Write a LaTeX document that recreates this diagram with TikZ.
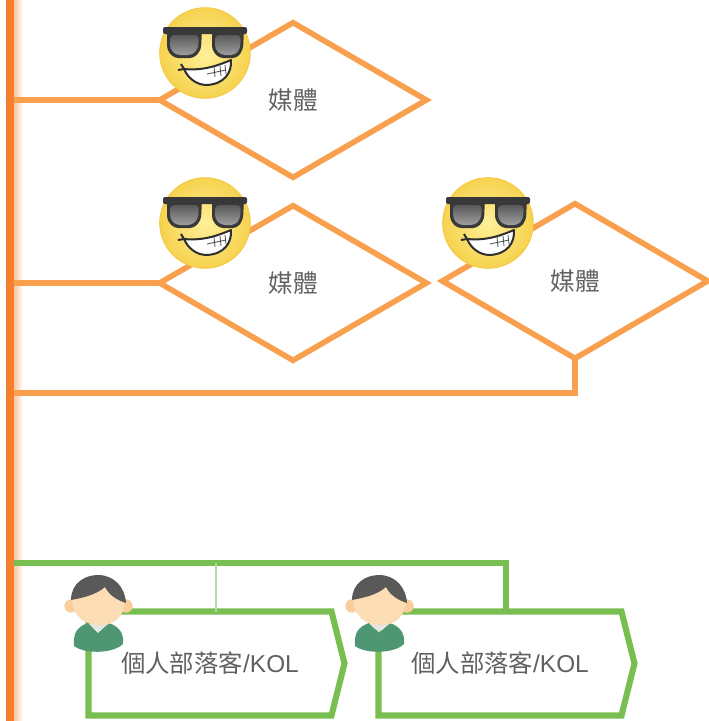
\documentclass[tikz,border=0pt]{standalone}
\usepackage{fontspec}
\setmainfont{Liberation Sans}
\newfontfamily\cjk{Noto Sans CJK TC}
\usetikzlibrary{shapes.geometric,shapes.symbols}
\definecolor{barorange}{HTML}{F47F2E}
\definecolor{lineorange}{HTML}{F8A04E}
\definecolor{linegreen}{HTML}{79BE50}
\definecolor{thingreen}{HTML}{B9D7A6}
\definecolor{txt}{HTML}{606060}
\definecolor{faceA}{HTML}{FFF09A}
\definecolor{faceB}{HTML}{F6D24E}
\definecolor{shirt}{HTML}{4F9672}
\definecolor{skin}{HTML}{FCDDB4}
\definecolor{ear}{HTML}{F9CE9C}
\tikzset{
  x=0.75pt,y=-0.75pt,
  dia/.style={diamond,draw=lineorange,line width=4.2pt,aspect=1.72,inner sep=0pt,outer sep=0pt,
    minimum width=200pt,minimum height=116pt,text=txt,line join=miter,
    font=\cjk\fontsize{18.5}{20}\selectfont},
  orangeline/.style={draw=lineorange,line width=4pt},
  greenline/.style={draw=linegreen,line width=4pt},
  sig/.style={signal,signal to=east,signal pointer angle=152,draw=linegreen,line width=4.6pt,
    minimum width=192pt,minimum height=78pt,inner sep=0pt,outer sep=0pt,text=txt,
    font=\fontsize{18.3}{20}\selectfont},
  pics/cool/.style={code={
    \shade[inner color=faceA,outer color=faceB,draw=faceB!85!orange,line width=.6pt] (1,0) circle (34pt);
    % glasses
    \fill[black!78,rounded corners=1.5pt] (-41,-26) -- (43,-26) -- (43,-19) -- (-41,-19) -- cycle;
    \fill[black!78,rounded corners=3pt] (-37,-24) -- (-2,-24) -- (-3,-3) -- (-10,5) -- (-30,5) -- (-37,-3) -- cycle;
    \fill[black!78,rounded corners=3pt] (8,-24) -- (40,-24) -- (39,-3) -- (33,5) -- (15,5) -- (8,-3) -- cycle;
    \shade[top color=black!65,bottom color=black!38,rounded corners=3pt] (-34,-18) -- (-5,-18) -- (-6,-4) -- (-12,2) -- (-28,2) -- (-34,-4) -- cycle;
    \shade[top color=black!65,bottom color=black!38,rounded corners=3pt] (11,-18) -- (37,-18) -- (36,-4) -- (31,2) -- (17,2) -- (11,-4) -- cycle;
    % mouth
    \fill[white,draw=black!82,line width=1.5pt,line join=round] (-20,16) .. controls (0,18) and (15,12) .. (27,7) .. controls (28,20) and (20,31) .. (3,32) .. controls (-8,32) and (-16,25) .. (-20,16) -- cycle;
    \draw[black!82,line width=1.5pt] (-20,16) -- (-26,17) (-20,16) -- (-23,11);
    \draw[black!70,line width=.6pt] (3,21) -- (22,17) (10,14) -- (11,24) (16,13) -- (17,23) (21,12) -- (22,21);
  }},
  pics/person/.style={code={
    % body
    \fill[shirt] (-24,43) .. controls (-25,30) and (-21,24) .. (-10,20) -- (0,30) -- (11,20) .. controls (22,24) and (26,31) .. (25,41) .. controls (15,51) and (-14,51) .. (-24,43) -- cycle;
    \fill[black!10] (-9,21) -- (0,29) -- (10,21) -- (5,19) -- (-5,19) -- cycle;
    % ears
    \fill[ear] (-27,3) circle (5pt);
    \fill[ear] (28,3) circle (5pt);
    % face
    \fill[skin] (-26,-6) .. controls (-26,15) and (-12,22) .. (2,22) .. controls (16,22) and (27,15) .. (27,-6) .. controls (27,-25) and (-26,-25) .. (-26,-6) -- cycle;
    % hair
    \fill[black!65] (-27,-3) .. controls (-27,-20) and (-13,-28) .. (0,-28) .. controls (16,-28) and (27,-16) .. (28,0) .. controls (22,-2) and (12,-6) .. (7,-16) .. controls (-2,-8) and (-16,-5) .. (-27,-3) -- cycle;
  }}
}
\begin{document}
\begin{tikzpicture}
\useasboundingbox (0,0) rectangle (708,721);
% trunk
\shade[left color=barorange!45!white,right color=white] (14,0) rectangle (23,721);
\node[fill=barorange,inner sep=0pt,outer sep=0pt,minimum width=6pt,minimum height=541pt] (bar) at (10,360.5) {};
% green tree
\coordinate (gtop) at (0,563);
\coordinate (gleft) at (bar.east |- gtop);
% boxes
\node[sig] (k1) at (210,663.5) {{\cjk 個人部落客}/KOL};
\node[sig] (k2) at (500,663.5) {{\cjk 個人部落客}/KOL};
\draw[greenline] (gleft) -| ([xshift=4.5pt]k2.north);
\draw[draw=thingreen,line width=1.2pt] ([xshift=4.5pt]k1.north |- gtop) -- ([xshift=4.5pt]k1.north);
% diamonds
\node[dia] (d1) at (293,100) {媒體};
\node[dia] (d2) at (293,283) {媒體};
\node[dia,minimum width=199pt] (d3) at (575,281) {媒體};
\draw[orangeline] (bar.east |- d1.west) -- (d1.west);
\draw[orangeline] (bar.east |- d2.west) -- (d2.west);
\coordinate (c3) at (0,393);
\draw[orangeline] (bar.east |- c3) -| (d3.south);
% decorations
\pic at (204,53) {cool};
\pic at (204,223) {cool};
\pic at (487,223) {cool};
\pic at (98,603) {person};
\pic at (379,603) {person};
\end{tikzpicture}
\end{document}
